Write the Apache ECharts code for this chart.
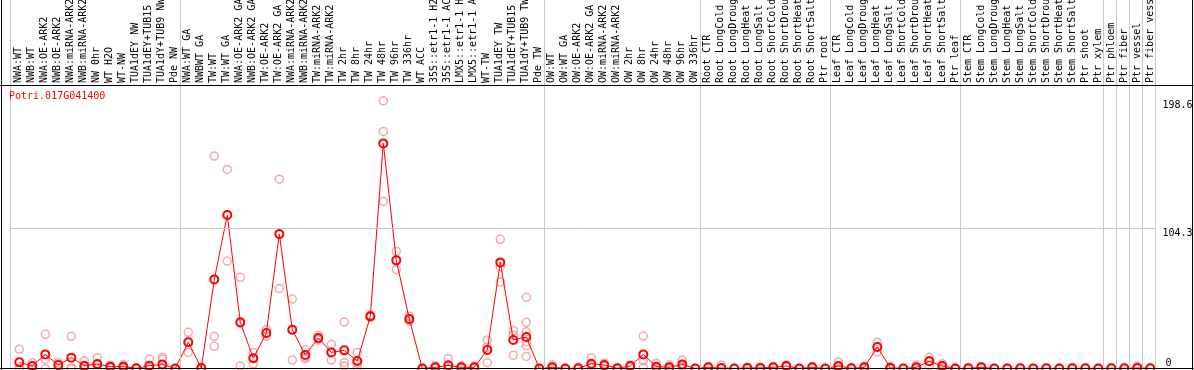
<!DOCTYPE html>
<html><head><meta charset="utf-8">
<script src="https://cdn.jsdelivr.net/npm/echarts@6/dist/echarts.min.js"></script>
<style>html,body{margin:0;padding:0;background:#fff}#c{width:1194px;height:370px}</style>
</head><body><div id="c"></div>
<script>
const geneId = 'Potri.017G041400';
const categories = [
 'NWA:WT','NWB:WT','NWA:OE-ARK2','NWB:OE-ARK2','NWA:miRNA-ARK2','NWB:miRNA-ARK2','NW 0hr','WT H2O','WT-NW','TUA1dEY NW','TUA1dEY+TUB15 NW','TUA1dY+TUB9 NW','Pde NW',
 'NWA:WT GA','NWBWT GA','TW:WT','TW:WT GA','NWA:OE-ARK2 GA','NWB:OE-ARK2 GA','TW:OE-ARK2','TW:OE-ARK2 GA','NWA:miRNA-ARK2 GA','NWB:miRNA-ARK2 GA','TW:miRNA-ARK2','TW:miRNA-ARK2 GA','TW 2hr','TW 8hr','TW 24hr','TW 48hr','TW 96hr','TW 336hr','WT ACC','35S::etr1-1 H2O','35S::etr1-1 ACC','LMX5::etr1-1 H2O','LMX5::etr1-1 ACC','WT-TW','TUA1dEY TW','TUA1dEY+TUB15 TW','TUA1dY+TUB9 TW','Pde TW',
 'OW:WT','OW:WT GA','OW:OE-ARK2','OW:OE-ARK2 GA','OW:miRNA-ARK2','OW:miRNA-ARK2 GA','OW 2hr','OW 8hr','OW 24hr','OW 48hr','OW 96hr','OW 336hr',
 'Root CTR','Root LongCold','Root LongDrought','Root LongHeat','Root LongSalt','Root ShortCold','Root ShortDrought','Root ShortHeat','Root ShortSalt','Ptr root',
 'Leaf CTR','Leaf LongCold','Leaf LongDrought','Leaf LongHeat','Leaf LongSalt','Leaf ShortCold','Leaf ShortDrought','Leaf ShortHeat','Leaf ShortSalt','Ptr leaf',
 'Stem CTR','Stem LongCold','Stem LongDrought','Stem LongHeat','Stem LongSalt','Stem ShortCold','Stem ShortDrought','Stem ShortHeat','Stem ShortSalt','Ptr shoot',
 'Ptr xylem','Ptr phloem','Ptr fiber','Ptr vessel','Ptr fiber vessel'
];
const meanValues = [
 4.7,2.0,10.6,2.7,8.2,2.2,3.5,1.5,1.5,0.3,2.2,3.2,0.2,
 19.6,0.5,66.2,113.9,34.4,7.7,26.4,99.8,28.9,10.1,22.7,12.1,13.6,5.7,38.8,167.0,80.3,36.8,0.2,1.0,2.5,1.0,1.0,13.9,78.8,21.3,23.5,0.2,
 1.0,0.2,0.3,3.7,2.7,0.3,2.0,10.6,1.5,1.0,3.2,0.2,
 1.0,0.5,0.2,0.6,0.6,1.0,2.0,0.2,1.0,0.2,
 2.0,0.3,1.0,16.1,0.6,0.2,1.0,5.5,2.0,0.2,
 0.3,1.0,0.2,0.2,0.3,0.2,0.3,0.2,0.3,0.3,
 0.2,0.3,0.3,0.5,0.3
];
const repA = [
 14.4,4.5,25.5,4.5,24.0,5.7,8.2,2.5,3.0,0.5,7.0,8.4,0.3,
 27.0,1.0,157.6,147.7,67.7,12.1,29.0,140.5,51.6,14.0,24.7,18.0,34.6,12.1,39.8,198.6,87.0,38.8,0.3,2.0,7.4,2.0,2.0,21.3,95.9,28.4,52.9,0.3,
 2.7,0.5,0.8,7.9,4.0,0.6,2.7,24.2,4.0,2.7,6.4,0.3,
 1.5,2.7,0.3,1.0,1.0,1.5,2.7,0.3,1.5,0.3,
 5.0,0.5,2.0,19.8,1.5,0.3,2.7,8.4,3.7,0.3,
 0.5,1.5,0.3,0.3,0.5,0.3,0.5,0.3,0.5,0.5,
 0.3,0.5,0.5,2.0,0.5
];
const repB = [
 0.3,1.5,7.0,2.5,0.6,1.0,3.0,1.5,1.5,0.3,1.5,7.0,0.2,
 19.7,0.3,24.0,114.2,33.5,7.6,26.0,99.4,28.7,8.5,22.0,12.0,4.5,4.0,38.5,175.9,80.3,36.6,0.2,0.8,0.2,0.8,0.8,15.8,75.6,25.0,34.4,0.2,
 0.3,0.1,0.1,2.5,2.2,0.2,2.0,5.9,0.5,0.3,1.5,0.2,
 1.0,0.3,0.2,0.6,0.6,1.0,2.0,0.2,1.0,0.2,
 1.0,0.3,0.8,16.0,0.3,0.2,0.3,5.9,2.0,0.2,
 0.2,1.0,0.2,0.2,0.2,0.2,0.2,0.2,0.2,0.2,
 0.2,0.2,0.2,0.3,0.2
];
const repC = [
 0,0,0,0.5,0,0,0,0.5,0.1,0.1,0,0.5,0.1,
 12.1,0.2,16.6,79.8,2.0,3.4,24.0,59.5,6.4,7.5,21.3,6.4,2.0,1.0,38.4,124.0,73.6,35.1,0.1,0.2,0,0.2,0.2,4.5,64.2,9.9,27.4,0.1,
 0.1,0,0,0.7,1.9,0,1.3,1.0,0,0,1.7,0.1,
 0.5,0,0.1,0.2,0.2,0.5,1.3,0.1,0.5,0.1,
 0,0.1,0.2,12.4,0.1,0.1,0,2.2,0.3,0.1,
 0.1,0.5,0.1,0.1,0.1,0.1,0.1,0.1,0.1,0.1,
 0.1,0.1,0.1,0.1,0.1
];
const extraReps = [[39,20.0],[39,17.0],[39,9.1]];
const groupEnds = [12,40,52,62,72,83,84,85,86,87];
const yLabelsUpper = [104.3,198.6];
const yLabelsLower = [0];
const yGridValue = 104.3;

const repData = [];
[repA,repB,repC].forEach(arr => arr.forEach((v,i) => repData.push([i,v])));
extraReps.forEach(p => repData.push(p));
const meanData = meanValues.map((v,i) => [i,v]);
const sepLines = [{xAxis:-0.72}].concat(groupEnds.map(e => ({xAxis:e+0.38})));

const mono = 'DejaVu Sans Mono';
const chart = echarts.init(document.getElementById('c'), null, {renderer:'canvas'});
chart.setOption({
  animation:false,
  backgroundColor:'#fff',
  title:{text:geneId,left:9,top:91,padding:0,textStyle:{color:'#ff0000',fontSize:10,fontFamily:mono,fontWeight:'normal'}},
  grid:[
    {left:9.94,right:38.5,top:0,bottom:1.3,containLabel:false,outerBoundsMode:'none'},
    {left:12,right:37.5,top:86,bottom:1.3,containLabel:false,outerBoundsMode:'none'}
  ],
  xAxis:[
    {type:'value',gridIndex:0,min:-0.72,max:87.4,show:false},
    {type:'category',gridIndex:1,position:'top',data:categories,boundaryGap:true,
     axisLine:{show:false},axisTick:{show:false},splitLine:{show:false},
     axisLabel:{rotate:90,interval:0,margin:3,hideOverlap:false,fontSize:10,fontFamily:mono,color:'#000'}}
  ],
  yAxis:[
    {type:'value',gridIndex:0,min:0,max:273.3,position:'right',axisLine:{show:false},axisTick:{show:false},splitLine:{show:false},
     axisLabel:{customValues:yLabelsUpper,verticalAlign:'top',margin:7,fontSize:10,fontFamily:mono,color:'#000',formatter:v=>String(v)}},
    {type:'value',gridIndex:0,min:0,max:273.3,position:'right',axisLine:{show:false},axisTick:{show:false},splitLine:{show:false},
     axisLabel:{customValues:yLabelsLower,verticalAlign:'bottom',margin:10,fontSize:10,fontFamily:mono,color:'#000',formatter:v=>String(v)}},
    {type:'value',gridIndex:1,show:false}
  ],
  series:[
    {type:'scatter',xAxisIndex:0,yAxisIndex:0,data:repData,symbol:'circle',symbolSize:8,z:2,
     itemStyle:{color:'rgba(0,0,0,0)',borderColor:'#ee9494',borderWidth:1.5},
     markLine:{silent:true,symbol:'none',label:{show:false},animation:false,
       lineStyle:{color:'#c8c8c8',width:1,type:'solid'},
       data:sepLines.concat([{yAxis:yGridValue}])}},
    {type:'line',xAxisIndex:0,yAxisIndex:0,data:meanData,symbol:'circle',symbolSize:8,showSymbol:true,z:3,
     lineStyle:{color:'#ff0000',width:1},
     itemStyle:{color:'rgba(0,0,0,0)',borderColor:'#ff0000',borderWidth:2}}
  ],
  graphic:[
    {type:'line',shape:{x1:1.5,y1:0,x2:1.5,y2:370},style:{stroke:'#000',lineWidth:1},z:100},
    {type:'line',shape:{x1:1192.5,y1:0,x2:1192.5,y2:370},style:{stroke:'#000',lineWidth:1},z:100},
    {type:'line',shape:{x1:0,y1:85.5,x2:1194,y2:85.5},style:{stroke:'#000',lineWidth:1},z:100},
    {type:'line',shape:{x1:0,y1:368.5,x2:1194,y2:368.5},style:{stroke:'#000',lineWidth:1},z:100}
  ]
});
</script>
</body></html>
